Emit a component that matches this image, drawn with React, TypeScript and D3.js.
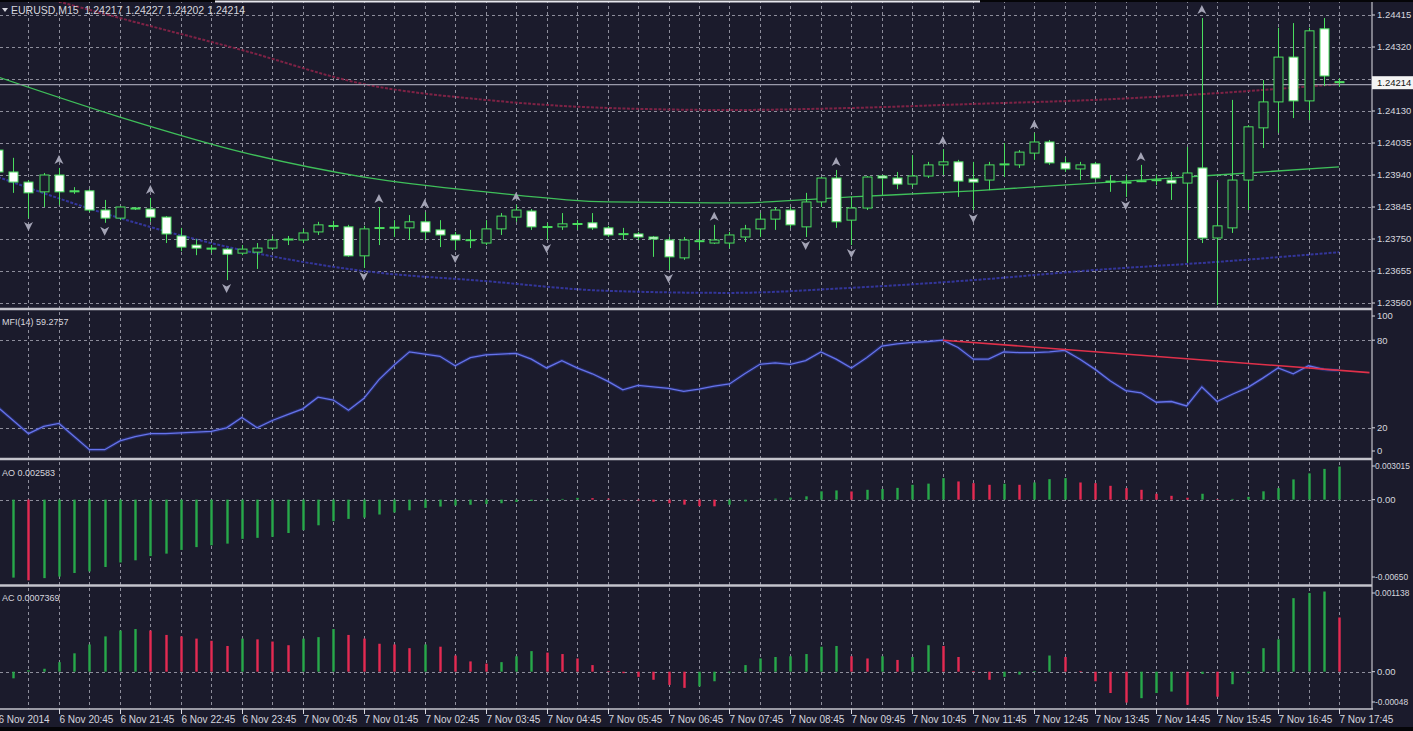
import * as d3 from 'd3';
import * as React from 'react';

// EURUSD M15, bars from 6 Nov 19:45 to 7 Nov 17:45
const symbol = 'EURUSD,M15';
const lastQuote = ['1.24217', '1.24227', '1.24202', '1.24214'];
const lastPrice = 1.24214;

// [open, high, low, close]
const ohlc: [number, number, number, number][] = [
  [1.24014, 1.24023, 1.23928, 1.23949], [1.23949, 1.23991, 1.23887, 1.23919],
  [1.23919, 1.23925, 1.23812, 1.23887], [1.23890, 1.23946, 1.23845, 1.23940],
  [1.23940, 1.23961, 1.23851, 1.23890], [1.23893, 1.23904, 1.23884, 1.23890],
  [1.23893, 1.23898, 1.23830, 1.23836], [1.23836, 1.23866, 1.23798, 1.23812],
  [1.23812, 1.23848, 1.23806, 1.23845], [1.23839, 1.23845, 1.23836, 1.23842],
  [1.23839, 1.23872, 1.23801, 1.23815], [1.23815, 1.23818, 1.23738, 1.23765],
  [1.23759, 1.23783, 1.23714, 1.23726], [1.23732, 1.23750, 1.23702, 1.23723],
  [1.23723, 1.23732, 1.23708, 1.23720], [1.23720, 1.23723, 1.23628, 1.23705],
  [1.23708, 1.23732, 1.23702, 1.23720], [1.23711, 1.23738, 1.23661, 1.23723],
  [1.23723, 1.23759, 1.23717, 1.23747], [1.23747, 1.23759, 1.23732, 1.23750],
  [1.23747, 1.23780, 1.23738, 1.23768], [1.23771, 1.23801, 1.23762, 1.23792],
  [1.23789, 1.23804, 1.23777, 1.23790], [1.23786, 1.23792, 1.23697, 1.23700],
  [1.23700, 1.23789, 1.23664, 1.23780], [1.23783, 1.23845, 1.23732, 1.23784],
  [1.23783, 1.23806, 1.23756, 1.23785], [1.23783, 1.23821, 1.23747, 1.23801],
  [1.23801, 1.23830, 1.23747, 1.23771], [1.23777, 1.23806, 1.23726, 1.23762],
  [1.23762, 1.23771, 1.23717, 1.23747], [1.23747, 1.23777, 1.23723, 1.23748],
  [1.23738, 1.23806, 1.23732, 1.23780], [1.23780, 1.23827, 1.23762, 1.23818],
  [1.23815, 1.23851, 1.23801, 1.23836], [1.23833, 1.23839, 1.23777, 1.23786],
  [1.23786, 1.23798, 1.23747, 1.23787], [1.23786, 1.23827, 1.23777, 1.23795],
  [1.23795, 1.23806, 1.23777, 1.23796], [1.23798, 1.23827, 1.23777, 1.23783],
  [1.23783, 1.23789, 1.23756, 1.23762], [1.23765, 1.23783, 1.23747, 1.23766],
  [1.23765, 1.23771, 1.23747, 1.23756], [1.23756, 1.23759, 1.23697, 1.23750],
  [1.23747, 1.23756, 1.23658, 1.23697], [1.23694, 1.23756, 1.23688, 1.23747],
  [1.23744, 1.23777, 1.23717, 1.23745], [1.23738, 1.23792, 1.23735, 1.23747],
  [1.23738, 1.23771, 1.23723, 1.23762], [1.23756, 1.23792, 1.23741, 1.23780],
  [1.23780, 1.23827, 1.23756, 1.23809], [1.23809, 1.23845, 1.23777, 1.23836],
  [1.23836, 1.23845, 1.23783, 1.23792], [1.23786, 1.23887, 1.23756, 1.23860],
  [1.23860, 1.23934, 1.23845, 1.23931], [1.23931, 1.23955, 1.23783, 1.23801],
  [1.23806, 1.23875, 1.23732, 1.23842], [1.23842, 1.23937, 1.23836, 1.23934],
  [1.23937, 1.23940, 1.23881, 1.23931], [1.23931, 1.23949, 1.23898, 1.23913],
  [1.23913, 1.23999, 1.23904, 1.23937], [1.23937, 1.23979, 1.23931, 1.23970],
  [1.23970, 1.24017, 1.23940, 1.23979], [1.23979, 1.23985, 1.23875, 1.23922],
  [1.23928, 1.23979, 1.23836, 1.23919], [1.23925, 1.23979, 1.23895, 1.23970],
  [1.23970, 1.24035, 1.23934, 1.23973], [1.23970, 1.24014, 1.23961, 1.24008],
  [1.24005, 1.24065, 1.23985, 1.24038], [1.24038, 1.24044, 1.23970, 1.23976],
  [1.23976, 1.23993, 1.23949, 1.23958], [1.23958, 1.23979, 1.23925, 1.23970],
  [1.23973, 1.23979, 1.23925, 1.23931], [1.23922, 1.23940, 1.23890, 1.23921],
  [1.23919, 1.23940, 1.23875, 1.23918], [1.23922, 1.23970, 1.23919, 1.23923],
  [1.23925, 1.23940, 1.23910, 1.23926], [1.23925, 1.23949, 1.23866, 1.23916],
  [1.23916, 1.24023, 1.23679, 1.23946], [1.23961, 1.24406, 1.23738, 1.23753],
  [1.23753, 1.23919, 1.23554, 1.23789], [1.23783, 1.24163, 1.23768, 1.23925],
  [1.23925, 1.24088, 1.23836, 1.24083], [1.24080, 1.24222, 1.24020, 1.24157],
  [1.24157, 1.24377, 1.24065, 1.24290], [1.24290, 1.24391, 1.24109, 1.24160],
  [1.24160, 1.24377, 1.24103, 1.24368], [1.24374, 1.24406, 1.24204, 1.24234],
  [1.24217, 1.24227, 1.24202, 1.24214],
];

const fractalUp = [4, 10, 25, 28, 34, 47, 55, 62, 68, 75, 79];
const fractalDown = [2, 7, 15, 24, 30, 36, 44, 53, 56, 64, 74, 80];

// moving average and its bands, read every 8 bars
const maBars = [0, 8, 16, 24, 32, 40, 48, 56, 64, 72, 80, 88];
const maMid = [1.24231, 1.24112, 1.24008, 1.23934, 1.2389, 1.2386, 1.23857, 1.23875, 1.23893, 1.23916, 1.2394, 1.23964];
const maUpper = [1.24504, 1.24406, 1.24311, 1.2421, 1.24163, 1.24139, 1.24133, 1.24139, 1.24151, 1.24163, 1.24183, 1.2421];
const maLower = [1.23934, 1.23812, 1.23717, 1.23655, 1.23625, 1.23596, 1.2359, 1.23605, 1.23628, 1.23658, 1.23682, 1.23711];

const mfi = [
  34, 25, 16, 21, 23, 14, 5, 5, 11, 14,
  16, 16, 16.5, 17, 17.5, 20, 27, 20, 25, 29,
  33, 41, 39, 32, 40, 53, 63, 72, 70.5, 69,
  62.5, 68, 70, 70.5, 71, 67, 61, 66, 61, 57,
  52, 46, 49, 48, 47, 45, 46.5, 48.5, 50, 57,
  63.5, 64.5, 63.5, 66, 72, 67, 61, 68, 76, 77.5,
  78.5, 79, 80, 75, 67, 67, 72, 71.5, 71.5, 72,
  73, 67, 60, 52, 45.5, 44, 37.5, 38, 35, 48,
  38, 43, 47.5, 54, 61, 57, 62.5, 60, 59.2757,
];
const mfiTrend: [number, number][] = [[62, 80], [90, 57.8]];

const ao = [
  -0.0062, -0.00608, -0.00629, -0.00612, -0.006, -0.00572, -0.0056, -0.00525, -0.0049, -0.00473,
  -0.0044, -0.00421, -0.00392, -0.0037, -0.00356, -0.00343, -0.00306, -0.00298, -0.0029, -0.0026,
  -0.00238, -0.002, -0.00168, -0.0015, -0.0014, -0.00116, -0.001, -0.00083, -0.00064, -0.00054,
  -0.00046, -0.0004, -0.00034, -0.00028, -0.00018, -0.0001, -0.00004, 0.00006, 0.00014, 0.00012,
  0.00008, 0.00002, -0.00006, -0.00016, -0.00028, -0.00039, -0.0005, -0.00052, -0.0004, -0.00014,
  0.00002, 0.00008, 0.00016, 0.00026, 0.00065, 0.00072, 0.00064, 0.00077, 0.00083, 0.00092,
  0.00116, 0.00125, 0.00168, 0.00142, 0.00129, 0.00116, 0.00124, 0.00116, 0.00134, 0.0016,
  0.00168, 0.00134, 0.00129, 0.00108, 0.0009, 0.00077, 0.00046, 0.0003, 0.00015, 0.00046,
  0.00004, 0.00006, 0.00022, 0.00065, 0.0009, 0.00158, 0.00205, 0.0024, 0.002583,
];

const ac = [
  -0.00012, -0.00009, 0.00002, 0.00004, 0.00013, 0.00025, 0.00037, 0.00048, 0.00056, 0.00058,
  0.00056, 0.0005, 0.00048, 0.00045, 0.00042, 0.00035, 0.00045, 0.00044, 0.00041, 0.00036,
  0.00045, 0.00047, 0.00058, 0.0005, 0.00045, 0.00038, 0.00037, 0.00032, 0.00037, 0.00034,
  0.00022, 0.00014, 0.00011, 0.00013, 0.00021, 0.00028, 0.00026, 0.00024, 0.00018, 0.00009,
  0.00001, -0.00002, -0.00007, -0.00011, -0.00018, -0.00022, -0.0002, -0.00013, -0.00001, 0.00009,
  0.00018, 0.0002, 0.00021, 0.00024, 0.00034, 0.00035, 0.00021, 0.00018, 0.00021, 0.00016,
  0.0002, 0.00036, 0.00035, 0.0002, 0.00001, -0.00011, -0.00007, -0.00004, 0.00001, 0.00022,
  0.0002, 0.00001, -0.00013, -0.00029, -0.00042, -0.00036, -0.00029, -0.00027, -0.00045, -0.00003,
  -0.00034, -0.00017, -0.00002, 0.00032, 0.00044, 0.001, 0.00107, 0.00109, 0.0007369,
];

const timeLabels = [
  '6 Nov 2014', '6 Nov 20:45', '6 Nov 21:45', '6 Nov 22:45', '6 Nov 23:45',
  '7 Nov 00:45', '7 Nov 01:45', '7 Nov 02:45', '7 Nov 03:45', '7 Nov 04:45',
  '7 Nov 05:45', '7 Nov 06:45', '7 Nov 07:45', '7 Nov 08:45', '7 Nov 09:45',
  '7 Nov 10:45', '7 Nov 11:45', '7 Nov 12:45', '7 Nov 13:45', '7 Nov 14:45',
  '7 Nov 15:45', '7 Nov 16:45', '7 Nov 17:45',
];
const priceTicks = [1.24415, 1.2432, 1.24225, 1.2413, 1.24035, 1.2394, 1.23845, 1.2375, 1.23655, 1.2356];
const mfiLevels = [20, 80];
const aoRange = [-0.0065, 0.003015];
const acRange = [-0.00048, 0.001138];

const W = 1413;
const H = 731;
const R = 1372;
const BG = '#1b1b2c';
const GRID = '#b4b4c0';
const TXT = '#d6d6de';
const CANDLE = '#4ade5e';
const GREEN = '#27a84a';
const RED = '#e52a52';
const FONT = '"Liberation Sans", Arial, sans-serif';

const x = d3.scaleLinear().domain([0, ohlc.length - 1]).range([-2, 1339]);
const yP = d3.scaleLinear().domain([1.2356, 1.24415]).range([303, 15]);
const yM = d3.scaleLinear().domain([0, 100]).range([457, 311]);
const yAO = d3.scaleLinear().domain(aoRange).range([583, 461]);
const yAC = d3.scaleLinear().domain(acRange).range([707, 588]);

const maLine = (vals: number[]) =>
  d3.line<number>().x((_, k) => x(maBars[k])).y((v) => yP(v)).curve(d3.curveMonotoneX)(vals) || '';

const mfiPath = d3.line<number>().x((_, i) => x(i)).y((v) => yM(v))(mfi) || '';
const trendPath = d3.line<[number, number]>().x((d) => x(d[0])).y((d) => yM(d[1]))(mfiTrend) || '';

const Histogram = ({ vals, y }: { vals: number[]; y: d3.ScaleLinear<number, number> }) => (
  <g>
    {vals.map((v, i) => {
      const cx = Math.round(x(i)) + 0.5;
      const up = i === 0 || v >= vals[i - 1];
      return (
        <line key={i} x1={cx} x2={cx} y1={y(0)} y2={y(v)} stroke={up ? GREEN : RED} strokeWidth={2.4} />
      );
    })}
  </g>
);

// long scale labels are squeezed a little so they stay inside the frame
const Label = ({ y, text }: { y: number; text: string }) => {
  const long = text.length > 7;
  return (
    <g>
      <line x1={R} x2={R + 3} y1={y} y2={y} stroke={TXT} />
      <text x={long ? R + 3 : R + 5} y={y} dy="0.35em" fill={TXT} fontSize={long ? 8.4 : 9.5} fontFamily={FONT}>
        {text}
      </text>
    </g>
  );
};

export default function App() {
  const vgrid = d3.range(0, ohlc.length, 2);
  const lastY = yP(lastPrice);
  return (
    <svg width={W} height={H} style={{ position: 'absolute', left: 0, top: 0 }}>
      <defs>
        <clipPath id="cMain"><rect x={0} y={0} width={R} height={307} /></clipPath>
        <clipPath id="cMfi"><rect x={0} y={311} width={R} height={146} /></clipPath>
        <clipPath id="cPlot"><rect x={0} y={0} width={R} height={709} /></clipPath>
      </defs>
      <rect width={W} height={H} fill={BG} />

      {/* grid */}
      <g clipPath="url(#cPlot)" stroke={GRID} strokeDasharray="3,3" strokeWidth={1} opacity={0.75}>
        {vgrid.map((i) => (
          <line key={i} x1={Math.round(x(i)) + 0.5} x2={Math.round(x(i)) + 0.5} y1={0} y2={709} />
        ))}
        {priceTicks.map((p) => (
          <line key={p} x1={0} x2={R} y1={Math.round(yP(p)) + 0.5} y2={Math.round(yP(p)) + 0.5} />
        ))}
        {mfiLevels.map((m) => (
          <line key={m} x1={0} x2={R} y1={Math.round(yM(m)) + 0.5} y2={Math.round(yM(m)) + 0.5} />
        ))}
        <line x1={0} x2={R} y1={Math.round(yAO(0)) + 0.5} y2={Math.round(yAO(0)) + 0.5} />
        <line x1={0} x2={R} y1={Math.round(yAC(0)) + 0.5} y2={Math.round(yAC(0)) + 0.5} />
      </g>

      {/* main pane */}
      <g clipPath="url(#cMain)">
        <path d={maLine(maUpper)} fill="none" stroke="#8a2448" strokeWidth={2} strokeDasharray="3,1.5" opacity={0.9} />
        <path d={maLine(maLower)} fill="none" stroke="#3638a6" strokeWidth={2} strokeDasharray="3,1.5" opacity={0.9} />
        <path d={maLine(maMid)} fill="none" stroke="#3fbf5a" strokeWidth={1.3} />
        <line x1={0} x2={R} y1={lastY + 2} y2={lastY + 2} stroke="#9a9aaa" strokeWidth={1.3} />
        {ohlc.map(([o, h, l, c], i) => {
          const cx = Math.round(x(i)) + 0.5;
          const top = yP(Math.max(o, c));
          const bot = yP(Math.min(o, c));
          return (
            <g key={i}>
              <line x1={cx} x2={cx} y1={yP(h)} y2={yP(l)} stroke={CANDLE} />
              <rect x={cx - 4.5} y={top} width={9} height={Math.max(bot - top, 1)}
                fill={c > o ? BG : '#ffffff'} stroke={CANDLE} />
            </g>
          );
        })}
        {fractalUp.map((i) => (
          <path key={'u' + i} transform={`translate(${x(i)},${yP(ohlc[i][1]) - 8})`}
            d="M0,-5 L4.5,4 L0,1.5 L-4.5,4 Z" fill="#a4a4b6" />
        ))}
        {fractalDown.map((i) => (
          <path key={'d' + i} transform={`translate(${x(i)},${yP(ohlc[i][2]) + 8})`}
            d="M0,5 L4.5,-4 L0,-1.5 L-4.5,-4 Z" fill="#a4a4b6" />
        ))}
      </g>

      {/* MFI pane */}
      <g clipPath="url(#cMfi)">
        <path d={mfiPath} fill="none" stroke="#3446c0" strokeWidth={3.5} opacity={0.35} />
        <path d={mfiPath} fill="none" stroke="#6673ea" strokeWidth={1.3} />
        <path d={trendPath} fill="none" stroke="#e0304a" strokeWidth={1.6} />
      </g>

      <Histogram vals={ao} y={yAO} />
      <Histogram vals={ac} y={yAC} />

      {/* separators and borders */}
      <g stroke="#c4c4cc">
        <line x1={0} x2={R} y1={309} y2={309} strokeWidth={2.5} />
        <line x1={0} x2={R} y1={459} y2={459} strokeWidth={2.5} />
        <line x1={0} x2={R} y1={585.5} y2={585.5} strokeWidth={2.5} />
        <line x1={0} x2={R + 1} y1={709} y2={709} strokeWidth={1.5} />
        <line x1={R} x2={R} y1={0} y2={709} strokeWidth={1.2} />
      </g>
      <rect x={0} y={0} width={W} height={2} fill="#050508" />
      <line x1={215} x2={980} y1={1.5} y2={1.5} stroke="#e8e8ee" strokeWidth={2} />

      {/* titles */}
      <path d="M2,8 L8,8 L5,12 Z" fill={TXT} />
      <text x={11} y={14} fill={TXT} fontSize={10.5} fontFamily={FONT} xmlSpace="preserve">
        {symbol + '  ' + lastQuote.join(' ')}
      </text>
      <text x={2} y={325} fill={TXT} fontSize={9} fontFamily={FONT}>{'MFI(14) ' + d3.format('.4f')(mfi[mfi.length - 1])}</text>
      <text x={2} y={476} fill={TXT} fontSize={9} fontFamily={FONT}>{'AO ' + ao[ao.length - 1]}</text>
      <text x={2} y={601} fill={TXT} fontSize={9} fontFamily={FONT}>{'AC ' + ac[ac.length - 1]}</text>

      {/* right axis */}
      {priceTicks.filter((p) => Math.abs(yP(p) - lastY) > 8).map((p) => (
        <Label key={p} y={yP(p)} text={p.toFixed(5)} />
      ))}
      <rect x={R} y={lastY - 6.5} width={W - R} height={13} fill="#f4f4f4" />
      <text x={R + 5} y={lastY} dy="0.35em" fill="#111" fontSize={9.5} fontFamily={FONT}>{lastPrice.toFixed(5)}</text>
      <Label y={316} text="100" />
      {mfiLevels.map((m) => <Label key={m} y={yM(m)} text={String(m)} />)}
      <Label y={451} text="0" />
      <Label y={466} text={String(aoRange[1])} />
      <Label y={yAO(0)} text="0.00" />
      <Label y={577} text={aoRange[0].toFixed(5)} />
      <Label y={593} text={String(acRange[1])} />
      <Label y={yAC(0)} text="0.00" />
      <Label y={702} text={acRange[0].toFixed(5)} />

      {/* time axis */}
      {timeLabels.map((t, k) => {
        const tx = Math.round(x(k * 4)) + 0.5;
        return (
          <g key={t}>
            <line x1={tx} x2={tx} y1={709} y2={714} stroke={TXT} />
            <text x={tx} y={723} fill={TXT} fontSize={10} fontFamily={FONT}>{t}</text>
          </g>
        );
      })}
      <rect x={0} y={727} width={W} height={4} fill="#050508" />
    </svg>
  );
}
